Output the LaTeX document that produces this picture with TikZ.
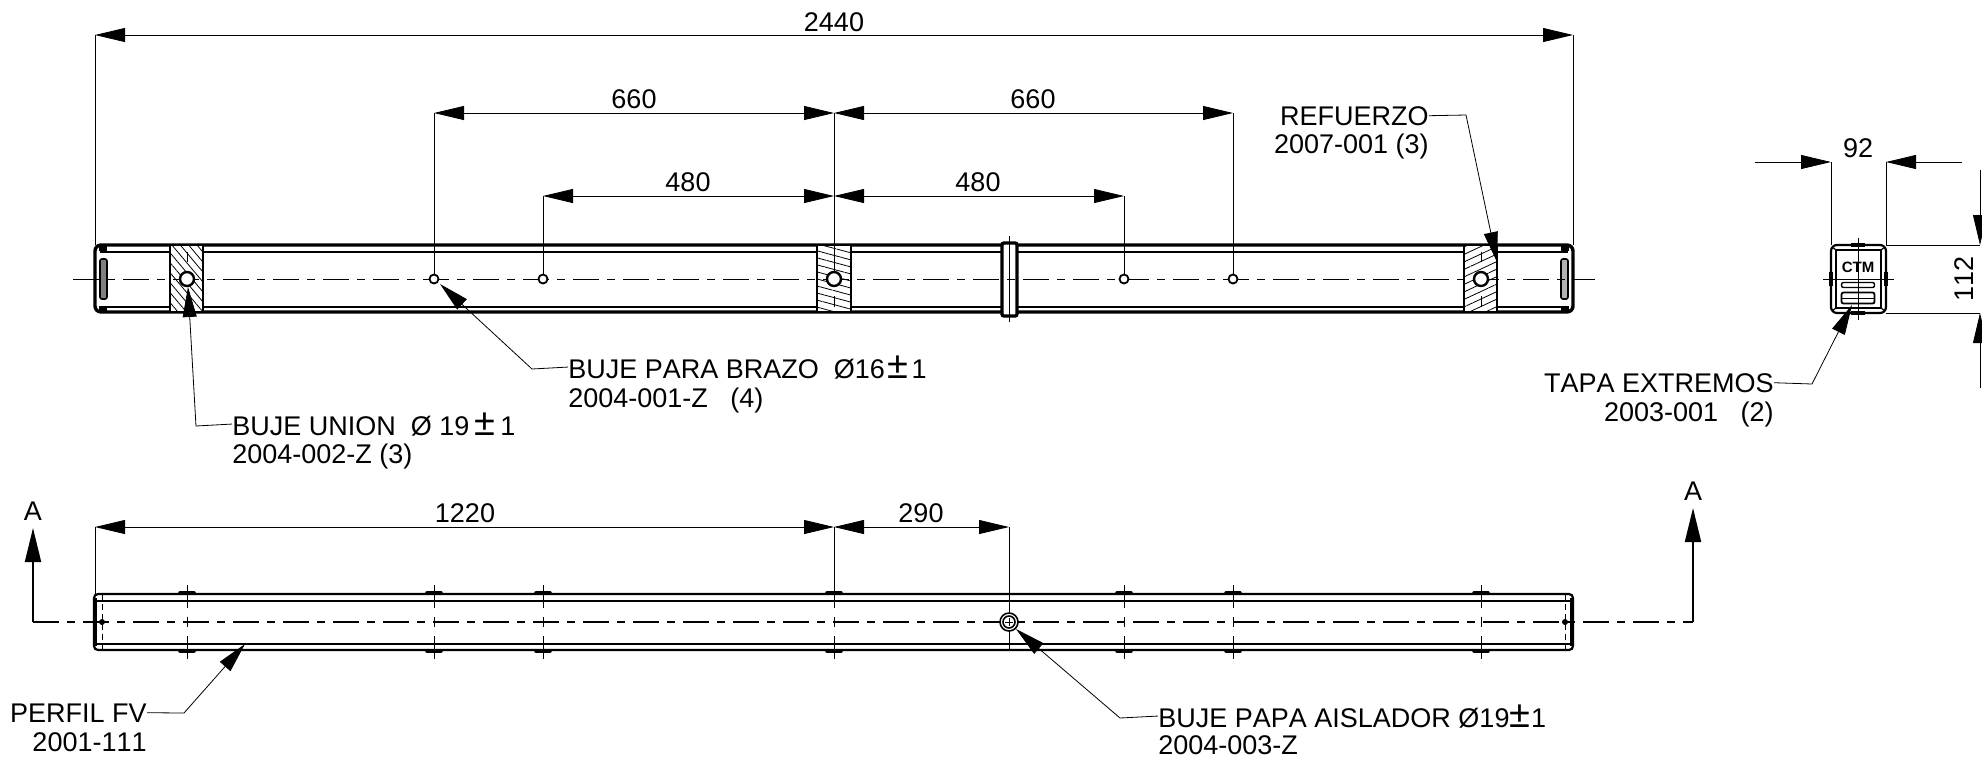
\documentclass[tikz,border=0pt]{standalone}
\usepackage{fontspec}
\setmainfont[Kerning=Off]{Liberation Sans}
\usetikzlibrary{arrows.meta,patterns.meta}
\newcommand{\bigpm}{{\fontsize{19}{16}\selectfont ±}}

\begin{document}
\begin{tikzpicture}[
		x=0.5pt,y=-0.5pt,
		every node/.style={font=\fontsize{13.5}{16}\selectfont,inner sep=0pt},
		ext/.style={line width=0.4pt},
		dim/.style={line width=0.4pt,{Triangle[length=15pt,width=7pt]}-{Triangle[length=15pt,width=7pt]}},
		leader/.style={line width=0.4pt,-{Triangle[length=15pt,width=7pt]}},
		outline/.style={line width=1.7pt},
		inner/.style={line width=1.1pt},
		axis/.style={line width=0.4pt,dash pattern=on 13pt off 4pt on 4pt off 4pt},
		tick/.style={line width=0.5pt,dash pattern=on 11.5pt off 4.5pt on 5pt off 4.5pt},
		section/.style={line width=1.1pt,dash pattern=on 13pt off 4pt on 4pt off 4pt},
		hole/.style={circle,draw,fill=white,line width=1.2pt,minimum size=7pt},
		smallhole/.style={circle,draw,fill=white,line width=0.9pt,minimum size=4.5pt},
		stud/.style={line width=1.8pt,line cap=round},
		hatch/.style={line width=0.9pt,preaction={fill=white}}
		]
		\useasboundingbox (0,0) rectangle (1982,757);

		% top view
		\draw[outline,rounded corners=3pt] (95,245) rectangle (1573,312);
		\draw[inner] (100,252) -- (1568,252) (100,307) -- (1568,307);
		\draw[hatch,pattern={Lines[angle=-50,distance=3.2pt,line width=0.4pt]}] (170,245) rectangle (203,312);
		\draw[hatch,pattern={Lines[angle=-15,distance=3.4pt,line width=0.4pt]}] (817,245) rectangle (851,312);
		\draw[hatch,pattern={Lines[angle=25,distance=3.4pt,line width=0.4pt]}] (1464,245) rectangle (1497,312);
		\draw[outline,fill=white,rounded corners=1pt] (1002,243) rectangle (1017,316);
		\draw[line width=0.8pt,fill=gray,rounded corners=1pt] (100,259) rectangle (107,299);
		\draw[line width=0.8pt,fill=gray!60,rounded corners=1pt] (1561,259) rectangle (1568,299);
		\draw[line width=3pt] (99,248) -- (107,248) (99,309) -- (107,309) (1561,248) -- (1569,248) (1561,309) -- (1569,309);
		\draw[axis] (73,279) -- (1595,279);
		\draw[ext] (1009,236) -- (1009,322);
		\draw[ext] (187,252) -- (187,262) (187,296) -- (187,307) (834,296) -- (834,307) (1481,252) -- (1481,262) (1481,296) -- (1481,307);
		\node[hole] (buje1) at (187,279) {};
		\node[hole] (buje2) at (834,279) {};
		\node[hole] (buje3) at (1481,279) {};
		\node[smallhole] (brazo1) at (434,279) {};
		\node[smallhole] (brazo2) at (543,279) {};
		\node[smallhole] (brazo3) at (1124,279) {};
		\node[smallhole] (brazo4) at (1233,279) {};

		% dimensions of the top view
		\coordinate (a1) at (95,35);
		\coordinate (a2) at (1573,35);
		\coordinate (b1) at (434,113);
		\coordinate (b2) at (834,113);
		\coordinate (b3) at (1233,113);
		\coordinate (c1) at (543,196);
		\coordinate (c2) at (834,196);
		\coordinate (c3) at (1124,196);
		\coordinate (a3) at (95,245);
		\coordinate (a4) at (1573,245);
		\draw[ext] (a1) -- (a3) (a2) -- (a4);
		\draw[ext] (b1) -- (brazo1) (b2) -- (buje2) (b3) -- (brazo4);
		\draw[ext] (c1) -- (brazo2) (c3) -- (brazo3);
		\draw[dim] (a1) -- (a2);
		\draw[dim] (b1) -- (b2);
		\draw[dim] (b2) -- (b3);
		\draw[dim] (c1) -- (c2);
		\draw[dim] (c2) -- (c3);
		\node[anchor=base] (d2440) at (834,31) {2440};
		\node[anchor=base] (d660a) at (634,108) {660};
		\node[anchor=base] (d660b) at (1033,108) {660};
		\node[anchor=base] (d480a) at (688,191) {480};
		\node[anchor=base] (d480b) at (978,191) {480};

		% labels of the top view
		\node[anchor=base east] (refuerzo) at (1429,125) {REFUERZO};
		\node[anchor=base east] (refuerzob) at (1429,153) {2007-001 (3)};
		\coordinate (e1) at (1466,115);
		\coordinate (t1) at (1497,262);
		\draw[leader] (refuerzo.east) -- (e1) -- (t1);
		\node[anchor=base west] (union) at (232,435) {BUJE UNION\ \ Ø 19\kern2.5pt\bigpm\kern2.5pt 1};
		\node[anchor=base west] (unionb) at (232,463) {2004-002-Z (3)};
		\coordinate (e2) at (196,426);
		\coordinate (t2) at (188,287);
		\draw[leader] (union.west) -- (e2) -- (t2);
		\node[anchor=base west] (brazo) at (568,378) {BUJE PARA BRAZO\ \ Ø16\kern1.4pt\bigpm\kern1.5pt 1};
		\node[anchor=base west] (brazob) at (568,407) {2004-001-Z\ \ \ (4)};
		\coordinate (e3) at (532,369);
		\coordinate (t3) at (440,284);
		\draw[leader] (brazo.west) -- (e3) -- (t3);

		% end view
		\draw[line width=1.1pt,rounded corners=3pt] (1831,245) rectangle (1886,313);
		\draw[line width=0.8pt] (1836,250) rectangle (1881,308);
		\draw[line width=0.6pt] (1832,247) -- (1836,250) (1885,247) -- (1881,250) (1832,311) -- (1836,308) (1885,311) -- (1881,308);
		\draw[line width=1.6pt] (1851,245) -- (1865,245) (1851,313) -- (1865,313) (1831,272) -- (1831,286) (1886,272) -- (1886,286);
		\draw[ext] (1823,279) -- (1894,279) (1858,238) -- (1858,320);
		\node[font=\bfseries\fontsize{7.5}{8}\selectfont] (logo) at (1858,267) {CTM};
		\node[draw,line width=0.7pt,rounded corners=1pt,minimum width=16.5pt,minimum height=2.5pt] (slot1) at (1858,285) {};
		\node[draw,line width=0.9pt,rounded corners=1pt,minimum width=16.5pt,minimum height=5.5pt] (slot2) at (1858,298) {};
		\draw[ext] (slot2.west) -- (slot2.east);
		\coordinate (f1) at (1831,162);
		\coordinate (f2) at (1886,162);
		\coordinate (f3) at (1755,162);
		\coordinate (f4) at (1962,162);
		\coordinate (g1) at (1980,245);
		\coordinate (g2) at (1980,313);
		\coordinate (g3) at (1980,170);
		\coordinate (g4) at (1980,388);
		\draw[ext] (f1) -- (1831,245) (f2) -- (1886,245);
		\draw[ext] (1886,245) -- (g1) (1886,313) -- (g2);
		\draw[leader] (f3) -- (f1);
		\draw[leader] (f4) -- (f2);
		\draw[leader] (g3) -- (g1);
		\draw[leader] (g4) -- (g2);
		\node[anchor=base] (d92) at (1858,157) {92};
		\node[anchor=base,rotate=90] (d112) at (1973,279) {112};
		\node[anchor=base east] (tapa) at (1774,392) {TAPA EXTREMOS};
		\node[anchor=base east] (tapab) at (1774,421) {2003-001\ \ \ (2)};
		\coordinate (e4) at (1812,384);
		\coordinate (t4) at (1852,305);
		\draw[leader] (tapa.east) -- (e4) -- (t4);

		% bottom view
		\draw[inner,rounded corners=2pt] (94,594) rectangle (1573,650);
		\draw[inner] (94,601) -- (1573,601) (94,644) -- (1573,644);
		\draw[line width=2pt] (95,598) -- (95,646) (1572,598) -- (1572,646);
		\draw[ext,densely dashed] (102,594) -- (102,650) (1565,594) -- (1565,650);
		\draw[stud] (180,593) -- (194,593) (180,651) -- (194,651);
		\draw[stud] (427,593) -- (441,593) (427,651) -- (441,651);
		\draw[stud] (536,593) -- (550,593) (536,651) -- (550,651);
		\draw[stud] (827,593) -- (841,593) (827,651) -- (841,651);
		\draw[stud] (1117,593) -- (1131,593) (1117,651) -- (1131,651);
		\draw[stud] (1226,593) -- (1240,593) (1226,651) -- (1240,651);
		\draw[stud] (1474,593) -- (1488,593) (1474,651) -- (1488,651);
		\draw[tick] (187,585) -- (187,659);
		\draw[tick] (434,585) -- (434,659);
		\draw[tick] (543,585) -- (543,659);
		\draw[tick] (834,585) -- (834,659);
		\draw[tick] (1124,585) -- (1124,659);
		\draw[tick] (1233,585) -- (1233,659);
		\draw[tick] (1481,585) -- (1481,659);
		\coordinate (s1) at (33,528);
		\coordinate (s2) at (33,622);
		\coordinate (s3) at (1693,622);
		\coordinate (s4) at (1693,508);
		\draw[section] (s2) -- (s3);
		\draw[line width=1pt,-{Triangle[length=17pt,width=8pt]}] (s2) -- (s1);
		\draw[line width=1pt,-{Triangle[length=17pt,width=8pt]}] (s3) -- (s4);
		\node[anchor=base] (cortea) at (33,520) {A};
		\node[anchor=base] (corteb) at (1693,500) {A};
		\node[circle,draw,fill=white,line width=0.8pt,minimum size=9pt] (papa) at (1009,622) {};
		\node[circle,draw,line width=0.8pt,minimum size=6pt] (papab) at (1009,622) {};
		\draw[ext] (1005,622) -- (1013,622) (1009,618) -- (1009,626);
		\draw[ext] (1009,630) -- (1009,650);
		\node[circle,fill,minimum size=3pt] (pin1) at (102,622) {};
		\node[circle,fill,minimum size=3pt] (pin2) at (1565,622) {};

		% dimensions and labels of the bottom view
		\coordinate (h1) at (95,527);
		\coordinate (h2) at (834,527);
		\coordinate (h3) at (1009,527);
		\coordinate (h4) at (95,594);
		\coordinate (h5) at (834,585);
		\draw[ext] (h1) -- (h4) (h2) -- (h5) (h3) -- (papa);
		\draw[dim] (h1) -- (h2);
		\draw[dim] (h2) -- (h3);
		\node[anchor=base] (d1220) at (465,522) {1220};
		\node[anchor=base] (d290) at (921,522) {290};
		\node[anchor=base east] (perfil) at (147,722) {PERFIL FV};
		\node[anchor=base east] (perfilb) at (147,751) {2001-111};
		\coordinate (e5) at (184,713);
		\coordinate (t5) at (245,644);
		\draw[leader] (perfil.east) -- (e5) -- (t5);
		\node[anchor=base west] (aislador) at (1158,727) {BUJE PAPA AISLADOR Ø19\bigpm\kern0.3pt 1};
		\node[anchor=base west] (aisladorb) at (1158,754.5) {2004-003-Z};
		\coordinate (e6) at (1120,718);
		\coordinate (t6) at (1016,629);
		\draw[leader] (aislador.west) -- (e6) -- (t6);
\end{tikzpicture}
\end{document}
